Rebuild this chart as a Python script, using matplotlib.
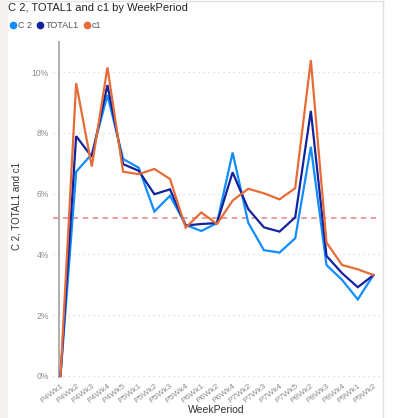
import matplotlib
matplotlib.use("Agg")
import matplotlib.pyplot as plt
from matplotlib.lines import Line2D
from matplotlib.patches import Rectangle
from matplotlib.ticker import FuncFormatter

plt.rcParams['font.family'] = ['Liberation Sans', 'DejaVu Sans']

# data (percent)
weeks = ["P4Wk1", "P4Wk2", "P4Wk3", "P4Wk4", "P4Wk5", "P5Wk1", "P5Wk2", "P5Wk3",
         "P5Wk4", "P6Wk1", "P6Wk2", "P6Wk4", "P7Wk2", "P7Wk3", "P7Wk4", "P7Wk5",
         "P8Wk2", "P8Wk3", "P8Wk4", "P9Wk1", "P9Wk2"]
c2 = [0.0, 6.72, 7.30, 9.24, 7.14, 6.85, 5.41, 5.93, 4.97, 4.77, 5.03, 7.35,
      5.04, 4.14, 4.06, 4.53, 7.54, 3.65, 3.16, 2.52, 3.32]
total1 = [0.0, 7.89, 7.21, 9.57, 6.97, 6.75, 5.98, 6.14, 4.95, 5.00, 5.03, 6.70,
          5.49, 4.89, 4.75, 5.22, 8.72, 3.95, 3.38, 2.92, 3.32]
c1 = [0.0, 9.63, 6.89, 10.15, 6.72, 6.64, 6.81, 6.48, 4.88, 5.38, 5.00, 5.77,
      6.16, 6.01, 5.81, 6.18, 10.39, 4.39, 3.65, 3.51, 3.32]
avg_line = 5.21

series = [("C 2", c2, "#118DFF"), ("TOTAL1", total1, "#12239E"), ("c1", c1, "#E66C37")]

W = H = 418
fig = plt.figure(figsize=(4.18, 4.18), dpi=100)

# page background strip + visual border
fig.patches.append(Rectangle((0, 0), 8 / W, 1, transform=fig.transFigure,
                             facecolor="#f3f2f1", edgecolor="none", zorder=0))
fig.lines.append(Line2D([383 / W, 383 / W], [0, 1 - 1 / H], transform=fig.transFigure,
                        color="#e1e1e1", lw=1))
fig.lines.append(Line2D([8 / W, 383 / W], [1 - 1 / H, 1 - 1 / H], transform=fig.transFigure,
                        color="#e1e1e1", lw=1))

ax = fig.add_axes([53 / W, 40 / H, 327 / W, 337 / H])
x = list(range(len(weeks)))
for name, vals, col in series:
    ax.plot(x, vals, color=col, lw=1.6, solid_joinstyle="miter", label=name)

ax.axhline(avg_line, color="#e8898c", lw=1.3, ls=(0, (3, 2.5)), alpha=0.9, zorder=1)

ax.set_xlim(-0.48, 20.42)
ax.set_ylim(-0.066, 11.02)
ax.set_yticks([0, 2, 4, 6, 8, 10])
ax.yaxis.set_major_formatter(FuncFormatter(lambda v, p: f"{v:.0f}%"))
ax.grid(axis="y", color="#d6d6d6", lw=0.9, ls=(0, (1, 3)))
ax.set_axisbelow(True)
ax.axvline(-0.077, color="#999999", lw=1.1, zorder=1)
for s in ax.spines.values():
    s.set_visible(False)
ax.tick_params(axis="y", length=0, colors="#8c8c8c", labelsize=6.2, pad=3)
ax.set_xticks(x)
ax.set_xticklabels(weeks, rotation=38, ha="right", rotation_mode="anchor")
ax.tick_params(axis="x", length=0, colors="#8c8c8c", labelsize=6.0, pad=3)

fig.text(216 / W, 1 - 410 / H, "WeekPeriod", fontsize=7.5, color="#333333",
         ha="center", va="center")
fig.text(17 / W, 1 - 206 / H, "C 2, TOTAL1 and c1", rotation=90, fontsize=7,
         color="#333333", ha="center", va="center")

fig.text(8 / W, 1 - 8 / H, "C 2, TOTAL1 and c1 by WeekPeriod", fontsize=8,
         color="#252423", ha="left", va="center")

handles = [Line2D([], [], ls="none", marker="o", ms=4.5, color=c) for _, _, c in series]
fig.legend(handles, [n for n, _, _ in series], loc="center left",
           bbox_to_anchor=(6 / W, 1 - 26 / H), ncol=3, frameon=False, fontsize=6.5,
           handlelength=0.6, handletextpad=0.25, columnspacing=0.6, borderpad=0,
           labelcolor="#555555")

fig.savefig("out.png", dpi=100)
